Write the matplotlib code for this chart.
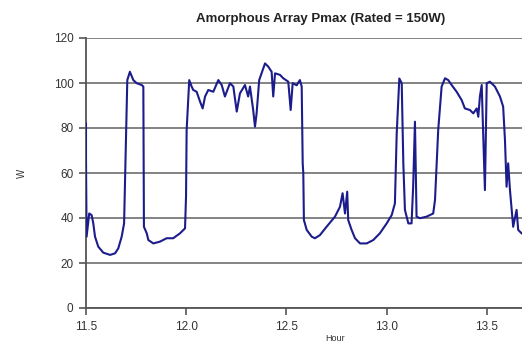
import matplotlib
matplotlib.use("Agg")
import matplotlib.pyplot as plt

# hour of day vs array max power (W)
hours = [11.500, 11.500, 11.503, 11.516, 11.528, 11.536, 11.545, 11.561, 11.586, 11.620,
         11.645, 11.661, 11.678, 11.690, 11.695, 11.700, 11.706, 11.719, 11.736, 11.753,
         11.778, 11.786, 11.789, 11.803, 11.811, 11.836, 11.869, 11.902, 11.935, 11.969,
         11.994, 11.999, 12.002, 12.015, 12.027, 12.035, 12.052, 12.069, 12.082, 12.094,
         12.110, 12.135, 12.160, 12.177, 12.193, 12.202, 12.218, 12.235, 12.252, 12.268,
         12.293, 12.309, 12.318, 12.334, 12.343, 12.351, 12.364, 12.393, 12.409, 12.426,
         12.434, 12.443, 12.468, 12.484, 12.509, 12.521, 12.531, 12.551, 12.567, 12.576,
         12.581, 12.584, 12.587, 12.601, 12.626, 12.642, 12.667, 12.700, 12.742, 12.767,
         12.780, 12.792, 12.803, 12.808, 12.825, 12.842, 12.867, 12.900, 12.933, 12.966,
         13.000, 13.025, 13.041, 13.050, 13.063, 13.075, 13.083, 13.091, 13.108, 13.124,
         13.132, 13.141, 13.149, 13.166, 13.199, 13.232, 13.241, 13.257, 13.274, 13.291,
         13.307, 13.324, 13.349, 13.374, 13.390, 13.415, 13.432, 13.449, 13.457, 13.465,
         13.474, 13.482, 13.490, 13.499, 13.515, 13.540, 13.565, 13.581, 13.590, 13.598,
         13.606, 13.615, 13.631, 13.648, 13.656, 13.673]
pmax = [82.0, 65.8, 31.7, 42.0, 41.3, 37.8, 31.7, 27.3, 24.6, 23.6,
        24.3, 26.5, 31.7, 37.6, 56.9, 76.0, 101.3, 105.0, 101.3, 99.9,
        99.1, 98.4, 36.1, 33.2, 30.2, 28.7, 29.5, 31.0, 31.0, 33.2,
        35.4, 49.5, 79.0, 101.3, 98.4, 96.9, 96.1, 91.7, 88.7, 94.0,
        96.9, 96.1, 101.3, 99.1, 94.0, 96.1, 99.9, 98.4, 87.3, 95.4,
        99.1, 94.0, 98.4, 88.0, 80.6, 86.5, 101.3, 108.7, 107.3, 105.0,
        94.0, 104.3, 103.6, 102.1, 100.6, 88.0, 99.9, 99.0, 101.3, 98.4,
        64.3, 59.9, 39.1, 34.7, 31.7, 31.0, 32.4, 36.1, 40.6, 45.0,
        51.0, 42.0, 51.7, 39.1, 34.7, 31.0, 28.7, 28.7, 30.2, 33.2,
        37.6, 41.3, 46.5, 77.6, 102.0, 99.9, 64.3, 43.6, 37.6, 37.6,
        53.9, 82.8, 40.6, 39.9, 40.6, 42.0, 48.0, 79.1, 98.4, 102.1,
        101.3, 99.1, 96.1, 92.4, 88.7, 88.0, 86.5, 88.7, 85.0, 94.0,
        99.1, 76.1, 52.4, 99.9, 100.6, 98.4, 94.0, 89.5, 74.7, 53.9,
        64.3, 52.4, 36.1, 43.6, 34.7, 33.2]

x_ticks = [11.5, 12.0, 12.5, 13.0, 13.5]
x_ticklabels = ["11.5", "12.0", "12.5", "13.0", "13.5"]
y_ticks = [0, 20, 40, 60, 80, 100, 120]

plt.rcParams['font.family'] = ['Liberation Sans', 'DejaVu Sans']

fig = plt.figure(figsize=(5.22, 3.45), dpi=100)
ax = fig.add_axes([86 / 522, 1 - 308 / 345, 1 - 86 / 522, 270 / 345])

ax.plot(hours, pmax, color="#1c1c8c", lw=1.5, solid_joinstyle="round", zorder=3)

ax.set_xlim(11.5, 13.675)
ax.set_ylim(0, 120)
ax.set_xticks(x_ticks)
ax.set_xticklabels(x_ticklabels)
ax.set_yticks(y_ticks)
ax.yaxis.grid(True, color="#7a7a7a", lw=1.3, zorder=1)
ax.set_axisbelow(True)

for side in ["top", "right"]:
    ax.spines[side].set_visible(False)
ax.spines["left"].set_color("#555555")
ax.spines["bottom"].set_color("#555555")
ax.spines["left"].set_linewidth(1.3)
ax.spines["bottom"].set_linewidth(1.3)

ax.tick_params(axis="both", direction="out", length=5, width=1.2, color="#555555",
               labelcolor="#333333", labelsize=8.5)
ax.tick_params(axis="y", pad=4)
ax.tick_params(axis="x", pad=4)

ax.set_title("Amorphous Array Pmax (Rated = 150W)", fontsize=9.5, fontweight="bold",
             x=(321 - 86) / 436, y=1.03, color="#222222")
ax.set_xlabel("Hour", fontsize=6.5, color="#333333")
ax.xaxis.set_label_coords((335 - 86) / 436, -0.095)
ax.set_ylabel("W", fontsize=7, color="#333333")
ax.yaxis.set_label_coords((27 - 86) / 436, 0.5)

fig.savefig("out.png", dpi=100)
